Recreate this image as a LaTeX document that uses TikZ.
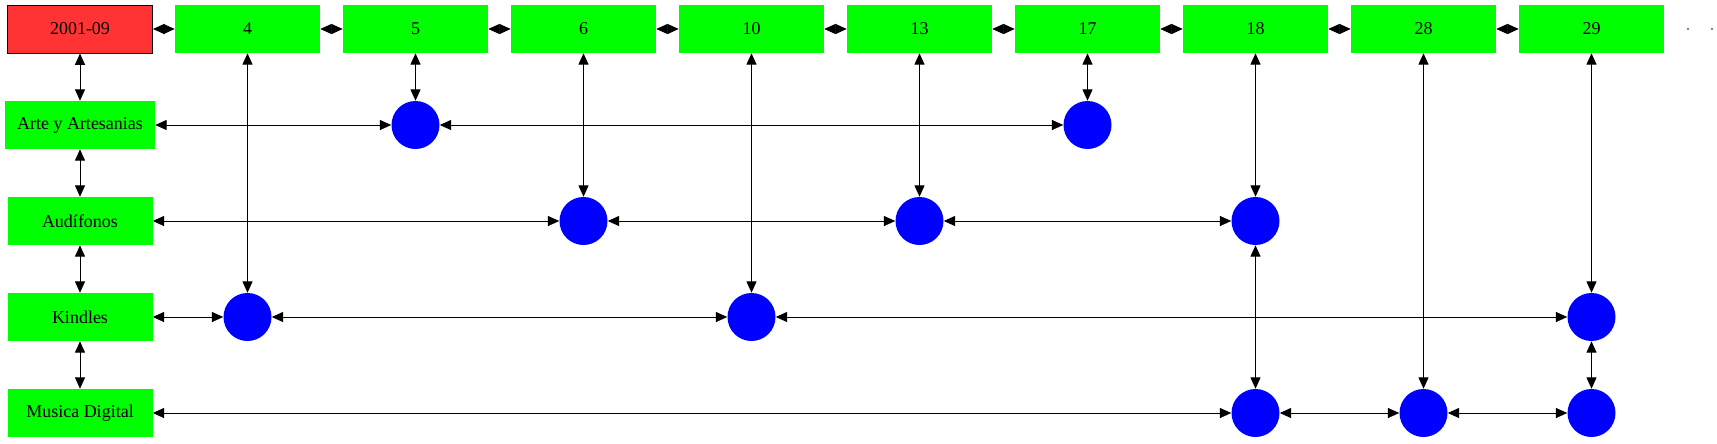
\documentclass[tikz,border=0pt]{standalone}
\usepackage{fontspec}
\setmainfont{Liberation Serif}
\usetikzlibrary{arrows.meta}
\definecolor{gvgreen}{HTML}{00FF00}
\definecolor{gvred}{HTML}{FF3333}
\definecolor{gvblue}{HTML}{0000FF}
\tikzset{
  box/.style={rectangle, fill=gvgreen, draw=none, minimum width=108.75pt, minimum height=36pt, inner sep=0pt, font=\fontsize{13.5}{16}\selectfont},
  redbox/.style={box, fill=gvred, draw=black, line width=0.75pt},
  wide/.style={minimum width=112.5pt},
  dot/.style={circle, fill=gvblue, draw=none, minimum size=36pt, inner sep=0pt},
  tiny/.style={rectangle, fill=gray, draw=none, minimum width=1.5pt, minimum height=1.5pt, inner sep=0pt},
  link/.style={draw=black, line width=0.75pt, {Triangle[length=8.5pt,width=7.5pt]}-{Triangle[length=8.5pt,width=7.5pt]}}
}
\begin{document}
\begin{tikzpicture}[x=0.75pt,y=-0.75pt]
\useasboundingbox (0,0) rectangle (1717,443);
% top row
\node[redbox] (t0) at (80,29) {2001-09};
\node[box] (t4) at (247.5,29) {4};
\node[box] (t5) at (415.5,29) {5};
\node[box] (t6) at (583.5,29) {6};
\node[box] (t10) at (751.5,29) {10};
\node[box] (t13) at (919.5,29) {13};
\node[box] (t17) at (1087.5,29) {17};
\node[box] (t18) at (1255.5,29) {18};
\node[box] (t28) at (1423.5,29) {28};
\node[box] (t29) at (1591.5,29) {29};
\node[tiny] (d1) at (1688,29) {};
\node[tiny] (d2) at (1712,29) {};
% left column
\node[box,wide] (arte) at (80,125) {Arte y Artesanias};
\node[box] (aud) at (80,221) {Audífonos};
\node[box] (kin) at (80,317) {Kindles};
\node[box] (mus) at (80,413) {Musica Digital};
% circles
\node[dot] (a5) at (415.5,125) {};
\node[dot] (a17) at (1087.5,125) {};
\node[dot] (u6) at (583.5,221) {};
\node[dot] (u13) at (919.5,221) {};
\node[dot] (u18) at (1255.5,221) {};
\node[dot] (k4) at (247.5,317) {};
\node[dot] (k10) at (751.5,317) {};
\node[dot] (k29) at (1591.5,317) {};
\node[dot] (m18) at (1255.5,413) {};
\node[dot] (m28) at (1423.5,413) {};
\node[dot] (m29) at (1591.5,413) {};
% top row links
\draw[link] (t0) -- (t4);
\draw[link] (t4) -- (t5);
\draw[link] (t5) -- (t6);
\draw[link] (t6) -- (t10);
\draw[link] (t10) -- (t13);
\draw[link] (t13) -- (t17);
\draw[link] (t17) -- (t18);
\draw[link] (t18) -- (t28);
\draw[link] (t28) -- (t29);
% left column links
\draw[link] (t0) -- (arte);
\draw[link] (arte) -- (aud);
\draw[link] (aud) -- (kin);
\draw[link] (kin) -- (mus);
% vertical links
\draw[link] (t4) -- (k4);
\draw[link] (t5) -- (a5);
\draw[link] (t6) -- (u6);
\draw[link] (t10) -- (k10);
\draw[link] (t13) -- (u13);
\draw[link] (t17) -- (a17);
\draw[link] (t18) -- (u18);
\draw[link] (u18) -- (m18);
\draw[link] (t28) -- (m28);
\draw[link] (t29) -- (k29);
\draw[link] (k29) -- (m29);
% horizontal links
\draw[link] (arte) -- (a5);
\draw[link] (a5) -- (a17);
\draw[link] (aud) -- (u6);
\draw[link] (u6) -- (u13);
\draw[link] (u13) -- (u18);
\draw[link] (kin) -- (k4);
\draw[link] (k4) -- (k10);
\draw[link] (k10) -- (k29);
\draw[link] (mus) -- (m18);
\draw[link] (m18) -- (m28);
\draw[link] (m28) -- (m29);
\end{tikzpicture}
\end{document}
